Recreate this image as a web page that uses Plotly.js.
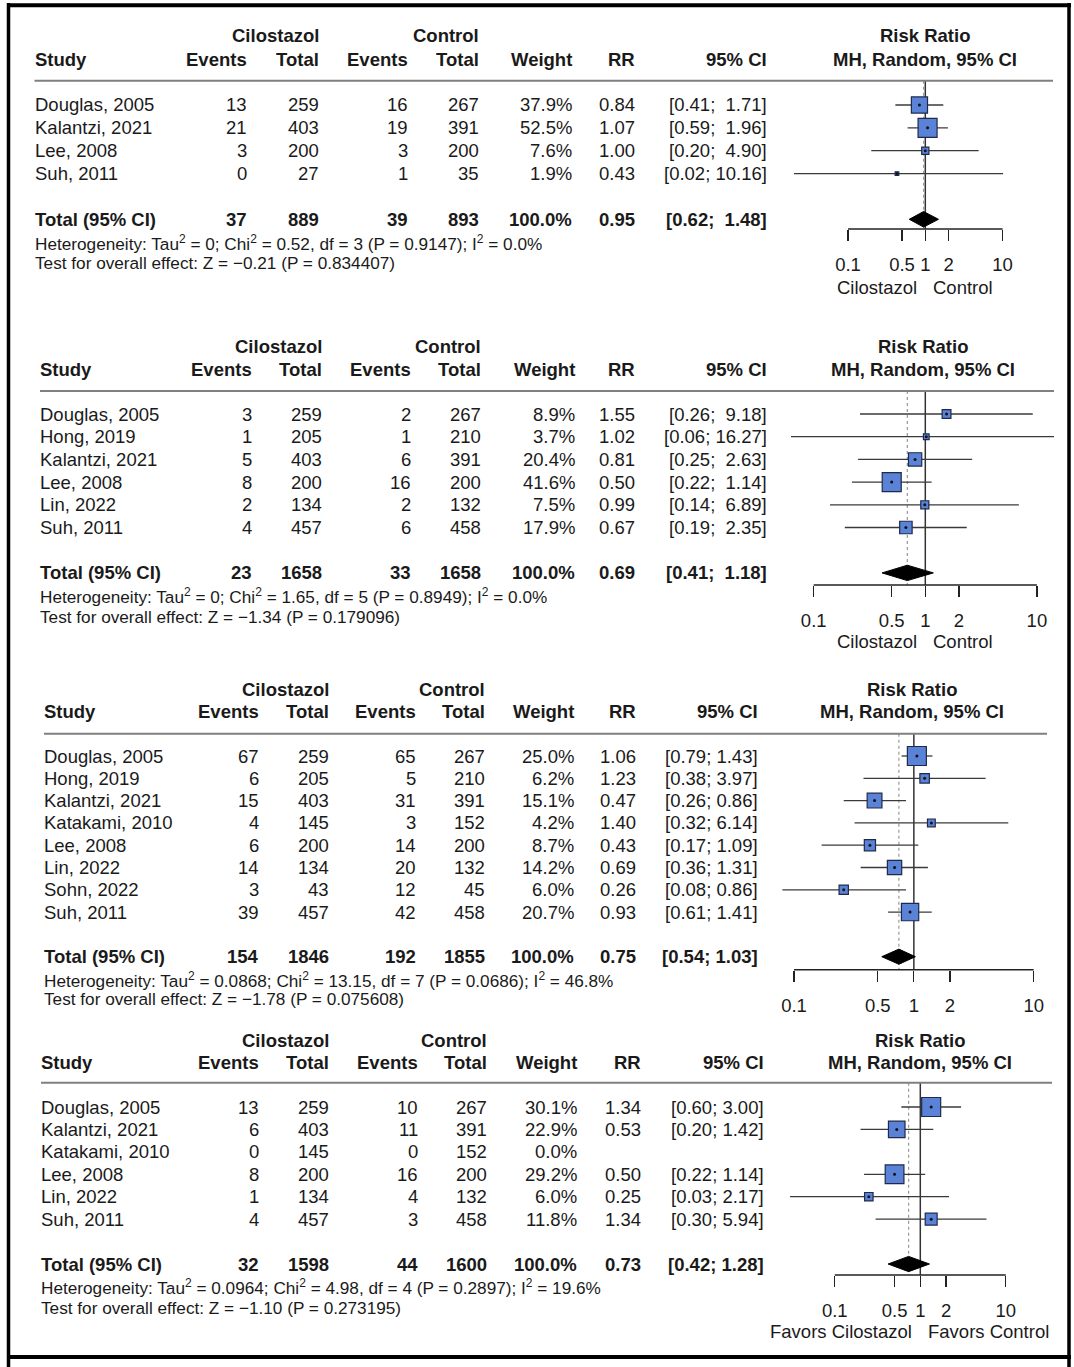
<!DOCTYPE html>
<html><head><meta charset="utf-8">
<script src="https://cdn.plot.ly/plotly-3.0.1.min.js"></script>
<style>html,body{margin:0;padding:0;background:#fff}</style>
</head><body><div id="chart" style="width:1074px;height:1367px"></div>
<script>
const W = 1074, H = 1367;

// ---------- Panel 1 ----------
const p1Study = ["Douglas, 2005","Kalantzi, 2021","Lee, 2008","Suh, 2011"];
const p1EventsCil = [13,21,3,0];
const p1TotalCil = [259,403,200,27];
const p1EventsCtl = [16,19,3,1];
const p1TotalCtl = [267,391,200,35];
const p1Weight = [37.9,52.5,7.6,1.9];
const p1RR = [0.84,1.07,1.00,0.43];
const p1Lower = [0.41,0.59,0.20,0.02];
const p1Upper = [1.71,1.96,4.90,10.16];
const p1Sum = [37,889,39,893];
const p1Pooled = [0.95,0.62,1.48];
const p1Het = "Heterogeneity: Tau<sup>2</sup> = 0; Chi<sup>2</sup> = 0.52, df = 3 (P = 0.9147); I<sup>2</sup> = 0.0%";
const p1Test = "Test for overall effect: Z = \u22120.21 (P = 0.834407)";
const p1Sides = ["Cilostazol","Control"];

// ---------- Panel 2 ----------
const p2Study = ["Douglas, 2005","Hong, 2019","Kalantzi, 2021","Lee, 2008","Lin, 2022","Suh, 2011"];
const p2EventsCil = [3,1,5,8,2,4];
const p2TotalCil = [259,205,403,200,134,457];
const p2EventsCtl = [2,1,6,16,2,6];
const p2TotalCtl = [267,210,391,200,132,458];
const p2Weight = [8.9,3.7,20.4,41.6,7.5,17.9];
const p2RR = [1.55,1.02,0.81,0.50,0.99,0.67];
const p2Lower = [0.26,0.06,0.25,0.22,0.14,0.19];
const p2Upper = [9.18,16.27,2.63,1.14,6.89,2.35];
const p2Sum = [23,1658,33,1658];
const p2Pooled = [0.69,0.41,1.18];
const p2Het = "Heterogeneity: Tau<sup>2</sup> = 0; Chi<sup>2</sup> = 1.65, df = 5 (P = 0.8949); I<sup>2</sup> = 0.0%";
const p2Test = "Test for overall effect: Z = \u22121.34 (P = 0.179096)";
const p2Sides = ["Cilostazol","Control"];

// ---------- Panel 3 ----------
const p3Study = ["Douglas, 2005","Hong, 2019","Kalantzi, 2021","Katakami, 2010","Lee, 2008","Lin, 2022","Sohn, 2022","Suh, 2011"];
const p3EventsCil = [67,6,15,4,6,14,3,39];
const p3TotalCil = [259,205,403,145,200,134,43,457];
const p3EventsCtl = [65,5,31,3,14,20,12,42];
const p3TotalCtl = [267,210,391,152,200,132,45,458];
const p3Weight = [25.0,6.2,15.1,4.2,8.7,14.2,6.0,20.7];
const p3RR = [1.06,1.23,0.47,1.40,0.43,0.69,0.26,0.93];
const p3Lower = [0.79,0.38,0.26,0.32,0.17,0.36,0.08,0.61];
const p3Upper = [1.43,3.97,0.86,6.14,1.09,1.31,0.86,1.41];
const p3Sum = [154,1846,192,1855];
const p3Pooled = [0.75,0.54,1.03];
const p3Het = "Heterogeneity: Tau<sup>2</sup> = 0.0868; Chi<sup>2</sup> = 13.15, df = 7 (P = 0.0686); I<sup>2</sup> = 46.8%";
const p3Test = "Test for overall effect: Z = \u22121.78 (P = 0.075608)";
const p3Sides = null;

// ---------- Panel 4 ----------
const p4Study = ["Douglas, 2005","Kalantzi, 2021","Katakami, 2010","Lee, 2008","Lin, 2022","Suh, 2011"];
const p4EventsCil = [13,6,0,8,1,4];
const p4TotalCil = [259,403,145,200,134,457];
const p4EventsCtl = [10,11,0,16,4,3];
const p4TotalCtl = [267,391,152,200,132,458];
const p4Weight = [30.1,22.9,0.0,29.2,6.0,11.8];
const p4RR = [1.34,0.53,null,0.50,0.25,1.34];
const p4Lower = [0.60,0.20,null,0.22,0.03,0.30];
const p4Upper = [3.00,1.42,null,1.14,2.17,5.94];
const p4Sum = [32,1598,44,1600];
const p4Pooled = [0.73,0.42,1.28];
const p4Het = "Heterogeneity: Tau<sup>2</sup> = 0.0964; Chi<sup>2</sup> = 4.98, df = 4 (P = 0.2897); I<sup>2</sup> = 19.6%";
const p4Test = "Test for overall effect: Z = \u22121.10 (P = 0.273195)";
const p4Sides = ["Favors Cilostazol","Favors Control"];

// ---------- shared labels ----------
const tickVals = [0.1,0.5,1,2,10];
const tickText = ["0.1","0.5","1","2","10"];
const groupHeaders = ["Cilostazol","Control"];
const colHeaders = ["Study","Events","Total","Events","Total","Weight","RR","95% CI"];
const forestHeaders = ["Risk Ratio","MH, Random, 95% CI"];
const totalLabel = "Total (95% CI)";

const panels = [
  {study:p1Study, eT:p1EventsCil, nT:p1TotalCil, eC:p1EventsCtl, nC:p1TotalCtl, w:p1Weight, rr:p1RR, lo:p1Lower, hi:p1Upper, sum:p1Sum, pooled:p1Pooled, het:p1Het, test:p1Test, sides:p1Sides},
  {study:p2Study, eT:p2EventsCil, nT:p2TotalCil, eC:p2EventsCtl, nC:p2TotalCtl, w:p2Weight, rr:p2RR, lo:p2Lower, hi:p2Upper, sum:p2Sum, pooled:p2Pooled, het:p2Het, test:p2Test, sides:p2Sides},
  {study:p3Study, eT:p3EventsCil, nT:p3TotalCil, eC:p3EventsCtl, nC:p3TotalCtl, w:p3Weight, rr:p3RR, lo:p3Lower, hi:p3Upper, sum:p3Sum, pooled:p3Pooled, het:p3Het, test:p3Test, sides:p3Sides},
  {study:p4Study, eT:p4EventsCil, nT:p4TotalCil, eC:p4EventsCtl, nC:p4TotalCtl, w:p4Weight, rr:p4RR, lo:p4Lower, hi:p4Upper, sum:p4Sum, pooled:p4Pooled, het:p4Het, test:p4Test, sides:p4Sides}
];

// ---------- geometry (pixels) ----------
const geom = [
  {top:15, bot:305, row0:105, dy:22.86, head:80.7, axis:229, xL:790, xR:1053, x01:848, dec:77.3,
   cols:[34.5,247,318.5,408,479,572,635,767], rrc:925, hdr:[36,59.3], het:[243,263], side:288},
  {top:312, bot:660, row0:414, dy:22.7, head:391, axis:585, xL:791, xR:1054, x01:813.7, dec:111.6,
   cols:[40,252,322,411,481,575,635,767], rrc:923, hdr:[346,369], het:[596,617], side:641.7},
  {top:665, bot:1020, row0:756, dy:22.3, head:733.8, axis:969.7, xL:776, xR:1047, x01:794, dec:119.85,
   cols:[44,259,328.6,416,485,574,636,758], rrc:912, hdr:[689.3,711.7], het:[980,998.5], side:null},
  {top:1022, bot:1350, row0:1107, dy:22.43, head:1082.7, axis:1275, xL:785, xR:1052, x01:834.8, dec:85.5,
   cols:[41,259,329,418,487,577,640.7,764], rrc:920, hdr:[1040.7,1062.7], het:[1287,1308], side:1331.7}
];

const FONT = "Liberation Sans, Arial, Helvetica, sans-serif";
const TXT = "#1a1a1a";
const FS = 18.5, FS_SMALL = 17.2;
const NBSP = "\u00a0";

const traces = [];
const layout = {
  width: W, height: H, margin:{l:0,r:0,t:0,b:0},
  paper_bgcolor:"#fff", plot_bgcolor:"rgba(0,0,0,0)",
  showlegend:false, annotations:[], shapes:[],
  font:{family:FONT, color:TXT}
};

function ann(text, px, row, anchor, yref, bold, size){
  layout.annotations.push({
    text: bold ? "<b>"+text+"</b>" : text,
    x: px/W, xref:"paper", y: row, yref: yref,
    xanchor: anchor, yanchor:"middle", showarrow:false,
    borderpad:0, borderwidth:0,
    font:{family:FONT, size:size||FS, color:TXT}
  });
}

panels.forEach((D, k) => {
  const g = geom[k];
  const sfx = k === 0 ? "" : String(k+1);
  const xa = "x"+sfx, ya = "y"+sfx;
  const toRow = px => (px - g.row0)/g.dy;
  const n = D.study.length;
  const totRow = n + 1;

  layout["xaxis"+sfx] = {
    type:"log",
    domain:[g.xL/W, g.xR/W],
    range:[-1 - (g.x01 - g.xL)/g.dec, -1 + (g.xR - g.x01)/g.dec],
    anchor:"free", position: 1 - g.axis/H, side:"bottom",
    showgrid:false, zeroline:false, showline:false,
    ticks:"outside", ticklen:11, tickwidth:1.3, tickcolor:"#222",
    tickvals:tickVals, ticktext:tickText,
    tickfont:{family:FONT, size:FS, color:TXT},
    ticklabelstandoff:8, fixedrange:true
  };
  layout["yaxis"+sfx] = {
    domain:[1 - g.bot/H, 1 - g.top/H],
    range:[toRow(g.bot), toRow(g.top)],
    anchor:xa, visible:false, fixedrange:true
  };

  const headRow = toRow(g.head), axisRow = toRow(g.axis);

  // reference line at RR = 1
  traces.push({x:[1,1], y:[headRow, axisRow], xaxis:xa, yaxis:ya, mode:"lines",
    line:{color:"#333", width:1.5}, hoverinfo:"skip"});
  // dotted line at pooled estimate
  traces.push({x:[D.pooled[0], D.pooled[0]], y:[headRow, axisRow], xaxis:xa, yaxis:ya, mode:"lines",
    line:{color:"#9a9a9a", width:1.2, dash:"dot"}, hoverinfo:"skip"});
  // axis line from first to last tick
  traces.push({x:[tickVals[0], tickVals[tickVals.length-1]], y:[axisRow, axisRow], xaxis:xa, yaxis:ya,
    mode:"lines", line:{color:"#222", width:1.5}, hoverinfo:"skip"});

  // CI lines
  const cx = [], cy = [];
  D.rr.forEach((r, i) => { if (r !== null) { cx.push(D.lo[i], D.hi[i], null); cy.push(i, i, null); } });
  traces.push({x:cx, y:cy, xaxis:xa, yaxis:ya, mode:"lines",
    line:{color:"#3a3a3a", width:1.3}, hoverinfo:"skip"});

  // squares sized by weight
  const wMax = Math.max(...D.w);
  const sx = [], sy = [], ss = [];
  D.rr.forEach((r, i) => { if (r !== null) { sx.push(r); sy.push(i); ss.push(19*Math.sqrt(D.w[i]/wMax)); } });
  traces.push({x:sx, y:sy, xaxis:xa, yaxis:ya, mode:"markers",
    marker:{symbol:"square", size:ss, color:"#5a82d6", opacity:1, line:{color:"#1f2a4a", width:1.2}}, hoverinfo:"skip"});
  traces.push({x:sx, y:sy, xaxis:xa, yaxis:ya, mode:"markers",
    marker:{symbol:"circle", size:3, color:"#111"}, hoverinfo:"skip"});

  // diamond
  const hh = 0.34;
  traces.push({x:[D.pooled[1], D.pooled[0], D.pooled[2], D.pooled[0], D.pooled[1]],
    y:[totRow, totRow-hh, totRow, totRow+hh, totRow], xaxis:xa, yaxis:ya,
    mode:"lines", fill:"toself", fillcolor:"#000", line:{color:"#000", width:1}, hoverinfo:"skip"});

  // header line
  layout.shapes.push({type:"line", xref:"paper", yref:"paper",
    x0:g.cols[0]/W, x1:g.xR/W, y0:1-g.head/H, y1:1-g.head/H,
    line:{color:"#808080", width:2}});

  // headers
  const h1 = toRow(g.hdr[0]), h2 = toRow(g.hdr[1]);
  ann(groupHeaders[0], g.cols[2], h1, "right", ya, true);
  ann(groupHeaders[1], g.cols[4], h1, "right", ya, true);
  ann(forestHeaders[0], g.rrc, h1, "center", ya, true);
  colHeaders.forEach((t, c) => ann(t, g.cols[c], h2, c === 0 ? "left" : "right", ya, true));
  ann(forestHeaders[1], g.rrc, h2, "center", ya, true);

  // CI string formatting with padding
  const hiStrs = D.hi.filter(v => v !== null).map(v => v.toFixed(2)).concat([D.pooled[2].toFixed(2)]);
  const maxLen = Math.max(...hiStrs.map(s => s.length));
  const ciStr = (lo, hi) => {
    const h = hi.toFixed(2);
    return "[" + lo.toFixed(2) + ";" + NBSP + NBSP.repeat(maxLen - h.length) + h + "]";
  };

  // study rows
  D.study.forEach((s, i) => {
    ann(s, g.cols[0], i, "left", ya);
    ann(String(D.eT[i]), g.cols[1], i, "right", ya);
    ann(String(D.nT[i]), g.cols[2], i, "right", ya);
    ann(String(D.eC[i]), g.cols[3], i, "right", ya);
    ann(String(D.nC[i]), g.cols[4], i, "right", ya);
    ann(D.w[i].toFixed(1) + "%", g.cols[5], i, "right", ya);
    if (D.rr[i] !== null) {
      ann(D.rr[i].toFixed(2), g.cols[6], i, "right", ya);
      ann(ciStr(D.lo[i], D.hi[i]), g.cols[7], i, "right", ya);
    }
  });

  // total row
  ann(totalLabel, g.cols[0], totRow, "left", ya, true);
  D.sum.forEach((v, c) => ann(String(v), g.cols[c+1], totRow, "right", ya, true));
  ann("100.0%", g.cols[5], totRow, "right", ya, true);
  ann(D.pooled[0].toFixed(2), g.cols[6], totRow, "right", ya, true);
  ann(ciStr(D.pooled[1], D.pooled[2]), g.cols[7], totRow, "right", ya, true);

  // heterogeneity lines
  ann(D.het, g.cols[0], toRow(g.het[0]), "left", ya, false, FS_SMALL);
  ann(D.test, g.cols[0], toRow(g.het[1]), "left", ya, false, FS_SMALL);

  // side labels
  if (D.sides) {
    const px1 = g.x01 + g.dec; // pixel of RR = 1
    ann(D.sides[0], px1 - 8, toRow(g.side), "right", ya);
    ann(D.sides[1], px1 + 8, toRow(g.side), "left", ya);
  }
});

// frame
const frame = [
  {x0:7, x1:1071, y0:5.3, y1:5.3, w:4},
  {x0:8.5, x1:8.5, y0:3, y1:1367, w:3.5},
  {x0:1069, x1:1069, y0:3, y1:1367, w:3.5},
  {x0:7, x1:1071, y0:1357, y1:1357, w:4}
];
frame.forEach(f => layout.shapes.push({type:"line", xref:"paper", yref:"paper",
  x0:f.x0/W, x1:f.x1/W, y0:1-f.y0/H, y1:1-f.y1/H, line:{color:"#000", width:f.w}}));

Plotly.newPlot("chart", traces, layout, {staticPlot:true, displayModeBar:false});
</script></body></html>
